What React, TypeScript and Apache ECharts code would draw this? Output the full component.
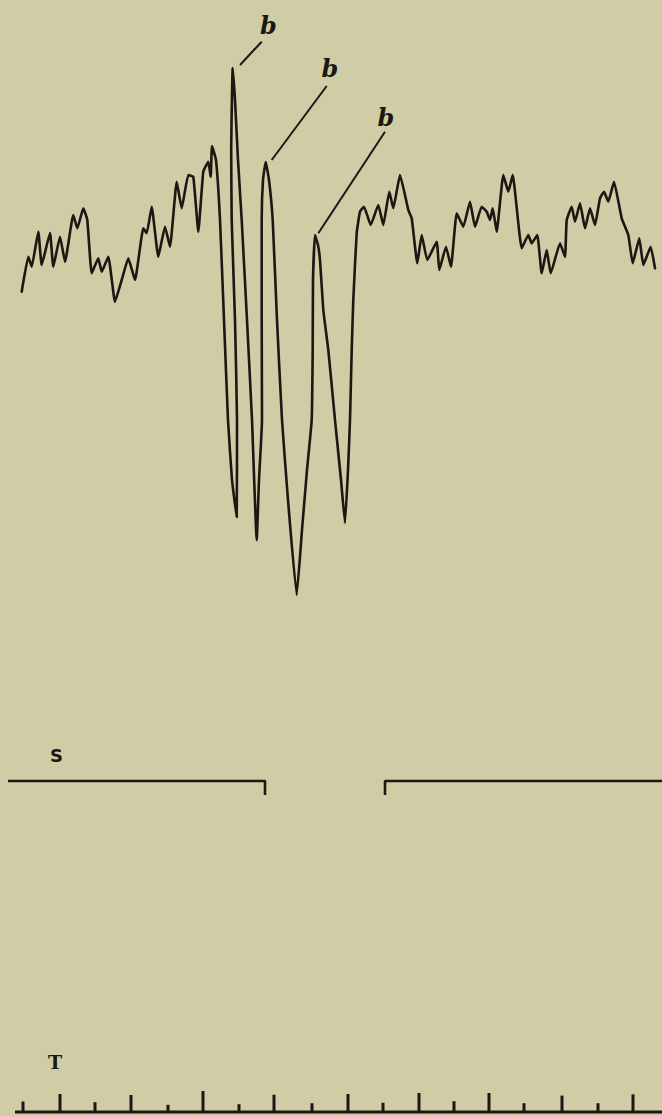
import React, { useEffect, useRef } from "react";
import * as echarts from "echarts";

// Record position along the drum (mm) and deflection of the lever (mm, up = positive).
const restBefore: [number, number][] = [
  [2.17, -3.17], [2.83, 0.33], [3.17, -0.67], [3.83, 2.83], [4.17, -0.5],
  [5.0, 2.7], [5.33, -0.67], [6.0, 2.33], [6.5, -0.17], [7.33, 4.5],
  [7.73, 3.17], [8.33, 5.17], [8.73, 4.0], [9.17, -1.33], [9.83, 0.17],
  [10.17, -1.17], [10.83, 0.33], [11.5, -4.17], [12.17, -2.0], [12.83, 0.17],
  [13.5, -2.0], [14.33, 3.17], [14.67, 2.67], [15.17, 5.33], [15.83, 0.33],
  [16.5, 3.33], [17.0, 1.33], [17.67, 7.83], [18.17, 5.17], [18.83, 8.5],
  [19.33, 8.33], [19.83, 2.83], [20.33, 8.83], [20.83, 9.83], [21.07, 8.33],
  [21.2, 11.4],
];

const response: [number, number][] = [
  [21.6, 10.0], [22.0, 4.0], [22.4, -6.0], [22.8, -16.0], [23.2, -22.0], [23.67, -25.7],
  [23.7, -16.0], [23.5, -6.0], [23.17, 4.0], [23.12, 11.0], [23.27, 19.2],
  [23.5, 16.0], [23.8, 10.0], [24.17, 4.0], [24.7, -6.0], [25.2, -16.0], [25.67, -28.0],
  [25.9, -22.0], [26.2, -16.0], [26.17, -6.0], [26.17, 4.0], [26.3, 8.0], [26.57, 9.8],
  [26.9, 8.0], [27.27, 4.0], [27.7, -6.0], [28.2, -16.0], [28.8, -24.0], [29.67, -33.5],
  [30.2, -27.0], [30.7, -21.0], [31.17, -16.0], [31.27, -9.0], [31.3, -2.0], [31.5, 2.5],
  [31.8, 1.5], [32.0, 0.0], [32.33, -5.0], [32.83, -9.0], [33.5, -16.0], [34.1, -22.0], [34.5, -26.3],
  [34.8, -21.0], [35.0, -16.0], [35.17, -9.0], [35.33, -4.0], [35.67, 2.7], [36.0, 4.83], [36.4, 5.33],
];

const restAfter: [number, number][] = [
  [37.07, 3.5], [37.83, 5.5], [38.33, 3.5], [38.93, 6.83], [39.33, 5.17],
  [40.0, 8.5], [40.83, 5.0], [41.17, 4.17], [41.73, -0.33], [42.17, 2.5],
  [42.73, 0.0], [43.67, 1.83], [43.93, -1.0], [44.6, 1.33], [45.1, -0.67],
  [45.67, 4.67], [46.33, 3.33], [47.0, 5.83], [47.5, 3.33], [48.17, 5.33],
  [48.67, 4.83], [49.0, 4.0], [49.27, 5.17], [49.67, 2.83], [50.33, 8.5],
  [50.83, 6.83], [51.27, 8.5], [52.17, 1.17], [52.83, 2.5], [53.17, 1.67],
  [53.73, 2.5], [54.17, -1.33], [54.67, 1.0], [55.07, -1.33], [56.0, 1.67],
  [56.5, 0.33], [56.67, 4.0], [57.17, 5.33], [57.5, 3.83], [58.0, 5.67],
  [58.5, 3.17], [59.0, 5.17], [59.5, 3.5], [60.0, 6.17], [60.4, 6.83],
  [60.83, 5.83], [61.4, 7.83], [62.17, 4.17], [62.83, 2.5], [63.27, -0.33],
  [63.93, 2.17], [64.33, -0.5], [65.07, 1.33], [65.5, -0.83],
];

// "b" marks: label position and the peak each leader points to.
const markLabels: [number, number][] = [[26.83, 23.5], [33.0, 19.2], [38.6, 14.3]];
const leaderFrom: [number, number][] = [[26.17, 21.83], [32.67, 17.4], [38.5, 12.83]];
const leaderTo: [number, number][] = [[24.0, 19.5], [27.17, 10.0], [31.83, 2.67]];

// Stimulus signal: level 0 = off, -1 = break.
const signalBefore: [number, number][] = [[0.8, 0], [26.5, 0], [26.5, -1]];
const signalAfter: [number, number][] = [[38.5, -1], [38.5, 0], [66.2, 0]];

// Time marker: position of each mark (mm) and its height (mm).
const timeMarks = [2.3, 6.0, 9.5, 13.1, 16.8, 20.3, 23.9, 27.4, 31.2, 34.8, 38.3, 41.9, 45.4, 48.9, 52.4, 56.2, 59.8, 63.3];
const timeMarkHeights = [1.05, 1.8, 0.98, 1.7, 0.72, 2.1, 0.78, 1.73, 0.88, 1.8, 0.92, 1.9, 1.08, 1.9, 0.88, 1.64, 0.88, 1.77];

const INK = "#1b1712";
const PAPER = "#cfcca6";

export default function App() {
  const ref = useRef<HTMLDivElement>(null);

  useEffect(() => {
    if (!ref.current) return;
    const chart = echarts.init(ref.current, undefined, { renderer: "svg" });
    const trace = [...restBefore, ...response, ...restAfter];
    const hiddenX = (gridIndex: number, min: number) => ({
      type: "value" as const, gridIndex, min, max: 66.2, show: false,
    });
    const hiddenY = (gridIndex: number, min: number, max: number) => ({
      type: "value" as const, gridIndex, min, max, show: false,
    });

    chart.setOption({
      animation: false,
      backgroundColor: PAPER,
      grid: [
        { left: 0, right: 0, top: 0, height: 620 },
        { left: 0, right: 0, top: 767, height: 42 },
        { left: 0, right: 0, top: 1082, height: 30 },
      ],
      xAxis: [hiddenX(0, 0), hiddenX(1, 0), hiddenX(2, 0)],
      yAxis: [hiddenY(0, -36, 26), hiddenY(1, -2, 1), hiddenY(2, 0, 3)],
      graphic: [
        {
          type: "text", left: 50, top: 746,
          style: { text: "S", fill: INK, font: "bold 18px 'DejaVu Sans'" },
        },
        {
          type: "text", left: 48, top: 1052,
          style: { text: "T", fill: INK, font: "bold 19px 'DejaVu Serif'" },
        },
      ],
      series: [
        {
          type: "line", xAxisIndex: 0, yAxisIndex: 0, data: trace,
          showSymbol: false, smooth: 0.12, clip: false,
          lineStyle: { color: INK, width: 2.6, join: "round", cap: "round" },
        },
        {
          type: "scatter", xAxisIndex: 0, yAxisIndex: 0, data: markLabels,
          symbolSize: 0, clip: false,
          itemStyle: { opacity: 1, color: INK },
          label: {
            show: true, position: "inside", formatter: "b", color: INK,
            fontFamily: "'DejaVu Serif'", fontStyle: "italic", fontWeight: "bold", fontSize: 24,
          },
          markLine: {
            silent: true, symbol: "none",
            label: { show: false },
            lineStyle: { color: INK, width: 2, type: "solid", opacity: 1 },
            data: leaderFrom.map((p, i) => [{ coord: p }, { coord: leaderTo[i] }]),
          },
        },
        {
          type: "line", xAxisIndex: 1, yAxisIndex: 1, data: signalBefore,
          showSymbol: false, clip: false,
          lineStyle: { color: INK, width: 2.6 },
        },
        {
          type: "line", xAxisIndex: 1, yAxisIndex: 1, data: signalAfter,
          showSymbol: false, clip: false,
          lineStyle: { color: INK, width: 2.6 },
        },
        {
          type: "line", xAxisIndex: 2, yAxisIndex: 2, data: [[1.5, 0], [66.2, 0]],
          showSymbol: false, clip: false,
          lineStyle: { color: INK, width: 3 },
        },
        {
          type: "bar", xAxisIndex: 2, yAxisIndex: 2,
          data: timeMarks.map((x, i) => [x, timeMarkHeights[i]]),
          barWidth: 3,
          itemStyle: { color: INK },
        },
      ],
    });
    return () => chart.dispose();
  }, []);

  return (
    <div
      ref={ref}
      style={{ position: "fixed", left: 0, top: 0, width: 662, height: 1116, background: PAPER }}
    />
  );
}
